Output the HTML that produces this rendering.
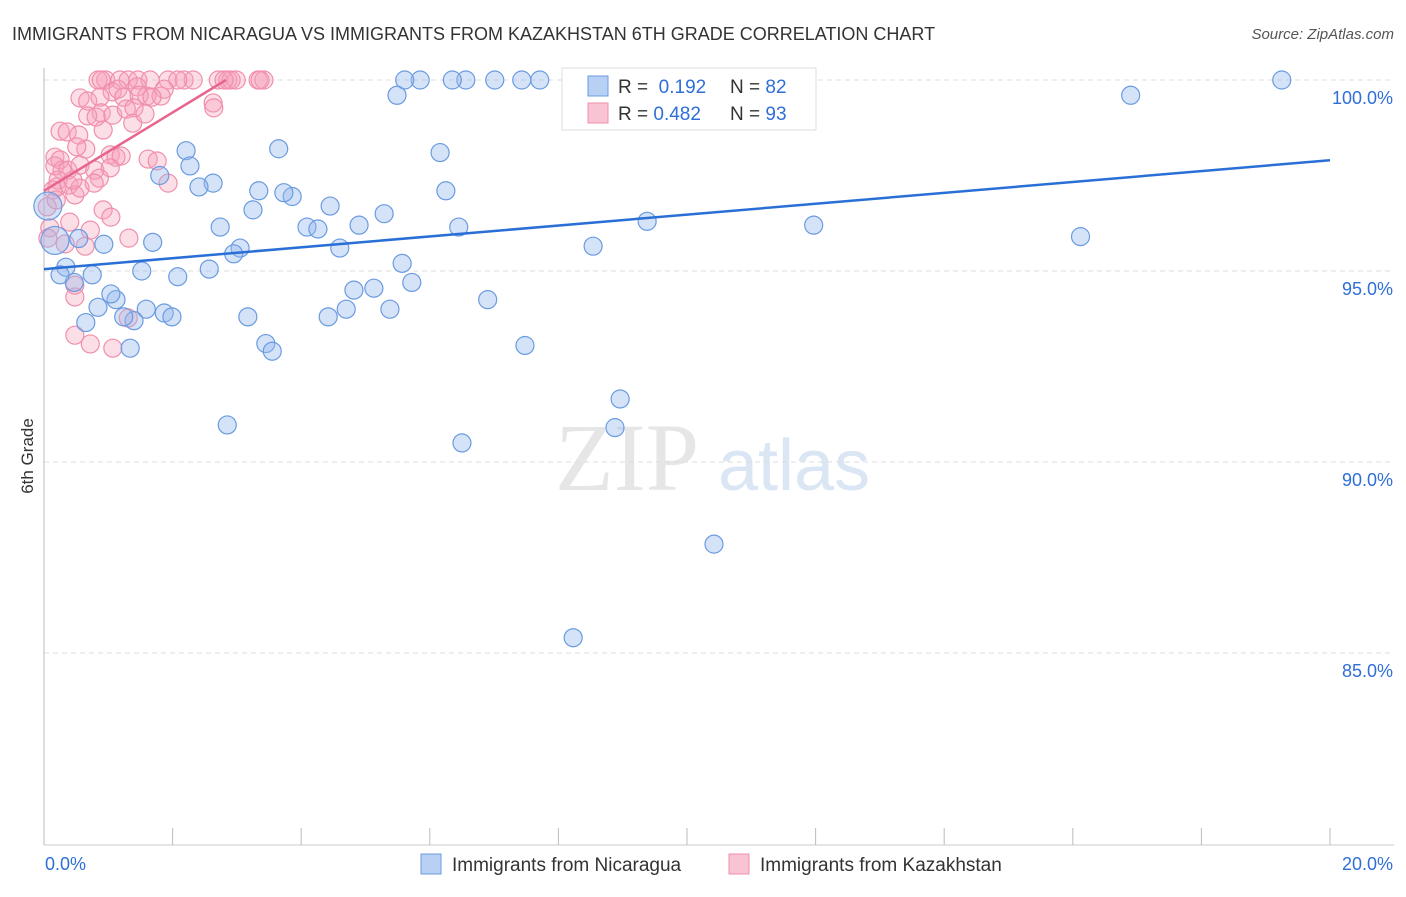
<!DOCTYPE html>
<html><head><meta charset="utf-8"><style>
body{margin:0;background:#fff;font-family:"Liberation Sans",sans-serif}
#wrap{position:relative;width:1406px;height:892px}
</style></head><body>
<div id="wrap">
<svg id="svg" width="1406" height="892" xmlns="http://www.w3.org/2000/svg" font-family="Liberation Sans, sans-serif">
<text x="12" y="40" font-size="18" fill="#333">IMMIGRANTS FROM NICARAGUA VS IMMIGRANTS FROM KAZAKHSTAN 6TH GRADE CORRELATION CHART</text>
<text x="1394" y="39" font-size="15" fill="#555" font-style="italic" text-anchor="end">Source: ZipAtlas.com</text>
<text x="33" y="456" font-size="17" fill="#333" text-anchor="middle" transform="rotate(-90 33 456)">6th Grade</text>
<text x="555" y="490" font-size="96" fill="#e6e6e6" font-family="Liberation Serif, serif">ZIP</text>
<text x="718" y="490" font-size="72" fill="#dbe6f5">atlas</text>
<g id="grid"></g><g id="axes"></g><g id="pink"></g><g id="blue"></g><g id="trends"></g>
<g>
<rect x="562" y="68" width="254" height="62" fill="#fff" stroke="#ddd"/>
<rect x="588" y="76" width="20" height="20" fill="#b7d0f3" stroke="#6a9be0"/>
<rect x="588" y="103" width="20" height="20" fill="#f8c3d2" stroke="#f08fab"/>
<text x="618" y="93" font-size="19" fill="#333">R = <tspan fill="#2f6fd6">&#160;0.192</tspan></text>
<text x="730" y="93" font-size="19" fill="#333">N = <tspan fill="#2f6fd6">82</tspan></text>
<text x="618" y="120" font-size="19" fill="#333">R = <tspan fill="#2f6fd6">0.482</tspan></text>
<text x="730" y="120" font-size="19" fill="#333">N = <tspan fill="#2f6fd6">93</tspan></text>
</g>
<g>
<rect x="421" y="854" width="20" height="20" fill="#b7d0f3" stroke="#6a9be0"/>
<text x="452" y="871" font-size="19" fill="#333">Immigrants from Nicaragua</text>
<rect x="729" y="854" width="20" height="20" fill="#f8c3d2" stroke="#f08fab"/>
<text x="760" y="871" font-size="19" fill="#333">Immigrants from Kazakhstan</text>
</g>
</svg>
</div>
<script>
const xTicks=[0,2,4,6,8,10,12,14,16,18,20];
const yTicks=[100,95,90,85];
const yTickLabels=["100.0%","95.0%","90.0%","85.0%"];
const xEndLabels=["0.0%","20.0%"];
const blueX=[19.25,16.9,16.12,11.97,10.42,9.38,8.96,8.88,8.54,8.23,7.48,7.71,7.43,7.01,6.56,6.35,5.85,5.61,5.49,6.9,6.5,6.45,6.25,6.16,5.29,5.57,5.72,5.38,5.13,4.82,4.7,4.9,4.45,4.42,4.6,4.09,4.26,3.86,3.73,3.34,3.65,3.25,3.05,2.95,3.17,3.45,3.55,2.85,2.74,2.63,2.41,2.21,2.27,1.8,2.57,2.08,1.69,1.52,1.59,1.87,1.99,1.34,1.4,1.24,1.12,1.04,0.84,0.65,0.93,0.75,0.54,0.47,0.34,0.25,0.17,0.06];
const blueY=[100,99.6,95.9,96.2,87.85,96.3,91.65,90.9,95.65,85.4,93.05,100,100,100,100,100,100,100,99.6,94.25,90.5,96.15,97.1,98.1,96.5,95.2,94.7,94.0,94.55,94.5,94.0,96.2,96.7,93.8,95.6,96.15,96.1,96.95,97.05,97.1,98.2,96.6,95.6,95.45,93.8,93.1,92.9,90.97,96.15,97.3,97.2,98.15,97.75,97.5,95.05,94.85,95.75,95.0,94.0,93.9,93.8,92.98,93.7,93.8,94.25,94.4,94.05,93.65,95.7,94.9,95.85,94.7,95.1,94.9,95.8,96.7];
const pinkX=[0.84,0.96,1.18,1.31,1.46,1.65,1.93,2.18,2.32,2.71,2.86,2.99,3.33,3.42,0.89,2.91,3.36,2.08,2.8,1.06,1.45,1.6,1.87,1.82,2.63,2.64,0.56,0.68,0.87,1.15,1.24,1.48,1.68,0.89,1.07,1.28,1.4,1.38,1.57,0.68,0.81,0.25,0.36,0.54,0.65,0.51,0.92,0.17,0.25,0.28,0.17,0.37,0.22,0.56,0.79,1.03,1.12,1.2,1.62,1.76,1.93,1.03,0.86,0.14,0.2,0.39,0.48,0.56,0.78,0.45,0.05,0.09,0.06,0.4,0.33,0.72,0.64,0.92,1.04,1.32,0.48,0.48,0.48,0.72,1.07,1.31,0.19];
const pinkY=[100,100,100,100,100,100,100,100,100,100,100,100,100,100,100,100,100,100,100,99.69,99.82,99.58,99.76,99.58,99.4,99.27,99.53,99.45,99.55,99.76,99.55,99.6,99.55,99.14,99.08,99.24,99.27,98.87,99.11,99.06,99.03,98.66,98.64,98.56,98.19,98.25,98.69,97.98,97.91,97.64,97.75,97.64,97.38,97.77,97.64,98.04,97.98,98.01,97.93,97.88,97.3,97.7,97.43,97.12,97.2,97.25,96.99,97.17,97.3,97.38,96.68,96.13,95.86,96.28,95.71,96.07,95.65,96.6,96.41,95.86,94.32,94.63,93.32,93.09,92.98,93.77,96.86];
const blueTrend=[95.05,97.9];   // y at x=0, y at x=20
const pinkTrend=[97.1,100,2.83]; // y at x=0, y at end, end x
const NS="http://www.w3.org/2000/svg";
function sx(v){return 44+v*64.3;}
function sy(v){return 80+(100-v)*38.2;}
function mk(tag,attrs,parent){const e=document.createElementNS(NS,tag);for(const k in attrs)e.setAttribute(k,attrs[k]);parent.appendChild(e);return e;}
const grid=document.getElementById('grid'),axes=document.getElementById('axes');
yTicks.forEach((t,i)=>{
  const l=mk('line',{x1:44,x2:1394,y1:sy(t),y2:sy(t),stroke:'#ddd','stroke-dasharray':'5,4'},grid);
  
  
  const tx=mk('text',{x:1393,y:sy(t)+24,'font-size':18,fill:'#2f6fd6','text-anchor':'end'},axes);
  tx.textContent=yTickLabels[i];
  
  
});
let a=mk('line',{x1:44,x2:44,y1:68,y2:845,stroke:'#bbb'},axes);


a=mk('line',{x1:44,x2:1394,y1:845,y2:845,stroke:'#ccc'},axes);


xTicks.forEach(t=>{
  const l=mk('line',{x1:sx(t),x2:sx(t),y1:828,y2:845,stroke:'#bbb'},axes);
  
  
});
[[0,'start',45],[20,'end',1393]].forEach((d,i)=>{
  const tx=mk('text',{x:d[2],y:870,'font-size':18,fill:'#2f6fd6','text-anchor':d[1]},axes);
  tx.textContent=xEndLabels[i];
  
  
});
const pg=document.getElementById('pink');
pinkX.forEach((x,i)=>{
  const c=mk('circle',{cx:sx(x),cy:sy(pinkY[i]),r:9,fill:'rgba(245,160,185,0.35)',stroke:'#f08fab','stroke-width':1.2},pg);
  
  
});
const bg=document.getElementById('blue');
blueX.forEach((x,i)=>{
  const big=(x<0.2);
  const c=mk('circle',{cx:sx(x),cy:sy(blueY[i]),r:big?14:9,fill:'rgba(150,185,238,0.4)',stroke:'#6a9be0','stroke-width':1.2},bg);
  
  
});
const tg=document.getElementById('trends');
let t1=mk('line',{x1:sx(0),y1:sy(blueTrend[0]),x2:sx(20),y2:sy(blueTrend[1]),stroke:'#2a6fd6','stroke-width':2.5},tg);


let t2=mk('line',{x1:sx(0),y1:sy(pinkTrend[0]),x2:sx(pinkTrend[2]),y2:sy(pinkTrend[1]),stroke:'#e8668e','stroke-width':2.5},tg);


</script>
</body></html>
